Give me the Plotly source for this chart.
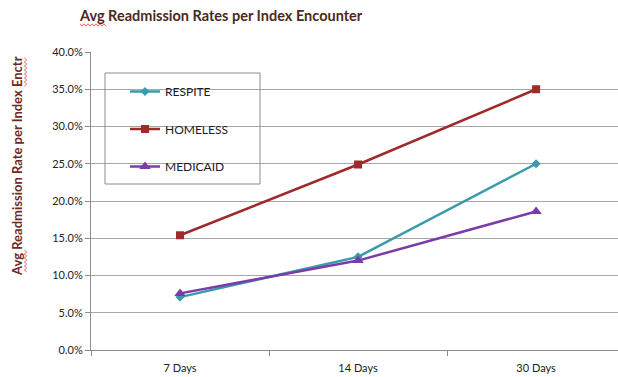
import plotly.graph_objects as go

# Readmission rates by follow-up window
windows = ["7 Days", "14 Days", "30 Days"]
respite = [0.071, 0.125, 0.250]
homeless = [0.154, 0.249, 0.350]
medicaid = [0.076, 0.120, 0.186]

W, H = 618, 377
ML, MR, MT, MB = 91, 0, 52, 27
PW, PH = W - ML - MR, H - MT - MB


def px(x):
    return (x - ML) / PW


def py(y):
    return (H - MB - y) / PH


FONT = "Lato, 'Open Sans', sans-serif"

fig = go.Figure()
series = [
    ("RESPITE", respite, "#3B9AAB", "diamond", 7),
    ("HOMELESS", homeless, "#9E2A2B", "square", 8),
    ("MEDICAID", medicaid, "#7A3CA8", "triangle-up", 10),
]
for name, vals, color, sym, size in series:
    fig.add_trace(go.Scatter(
        x=windows, y=vals, name=name, legendgroup=name,
        mode="lines+markers",
        line=dict(color=color, width=2.5),
        marker=dict(symbol=sym, size=size, color=color),
    ))

# squiggly underline helper (spell-check style marks under some words)
def squiggle(x0, x1, y, horizontal=True, step=2.0, amp=1.2):
    pts = []
    n = int(abs(x1 - x0) / step)
    for i in range(n + 1):
        t = x0 + i * step * (1 if x1 > x0 else -1)
        o = amp if i % 2 else -amp
        if horizontal:
            pts.append((px(t), py(y + o)))
        else:
            pts.append((px(y + o), py(t)))
    return "M " + " L ".join(f"{a:.5f},{b:.5f}" for a, b in pts)


shapes = [
    dict(type="rect", xref="paper", yref="paper",
         x0=px(105), x1=px(260), y0=py(184), y1=py(73),
         line=dict(color="#8c8c8c", width=1), fillcolor="rgba(0,0,0,0)", layer="above"),
    dict(type="path", xref="paper", yref="paper", path=squiggle(80, 107, 25),
         line=dict(color="#e04040", width=0.8)),
    dict(type="path", xref="paper", yref="paper", path=squiggle(58, 86, 25.5, horizontal=False),
         line=dict(color="#e04040", width=0.8)),
    dict(type="path", xref="paper", yref="paper", path=squiggle(250, 273, 25.5, horizontal=False),
         line=dict(color="#e04040", width=0.8)),
]

annotations = [
    dict(text="<b>Avg Readmission Rate per Index Enctr</b>", textangle=-90,
         xref="paper", yref="paper", x=px(17), y=py(166),
         xanchor="center", yanchor="middle", showarrow=False,
         font=dict(family=FONT, size=13, color="#6E2A1E")),
]

fig.update_layout(
    width=W, height=H,
    margin=dict(l=ML, r=MR, t=MT, b=MB),
    paper_bgcolor="white", plot_bgcolor="white",
    font=dict(family=FONT, size=11, color="#222222"),
    title=dict(text="<b>Avg Readmission Rates per Index Encounter</b>",
               x=80 / W, xanchor="left", y=1 - 16 / H, yanchor="middle",
               font=dict(family=FONT, size=14.5, color="#4A2A22")),
    showlegend=True,
    legend=dict(x=px(125), y=py(77), xanchor="left", yanchor="top",
                bgcolor="rgba(255,255,255,0)", borderwidth=0,
                font=dict(family=FONT, size=12, color="#1a1a2a"),
                tracegroupgap=18.5, itemwidth=30),
    shapes=shapes,
    annotations=annotations,
    xaxis=dict(range=[-0.5, 2.46], showgrid=False, showline=True,
               linecolor="#8c8c8c", linewidth=1, ticks="outside", ticklen=5,
               tickcolor="#8c8c8c", tickson="boundaries", zeroline=False,
               ticklabelstandoff=8,
               tickfont=dict(family=FONT, size=11, color="#222222")),
    yaxis=dict(range=[0, 0.40], dtick=0.05, tickformat=".1%",
               showgrid=True, gridcolor="#a6a6a6", gridwidth=1,
               showline=True, linecolor="#8c8c8c", linewidth=1,
               ticks="outside", ticklen=5, tickcolor="#8c8c8c", zeroline=False,
               tickfont=dict(family=FONT, size=11, color="#222222")),
)

fig.write_html("out.html")
